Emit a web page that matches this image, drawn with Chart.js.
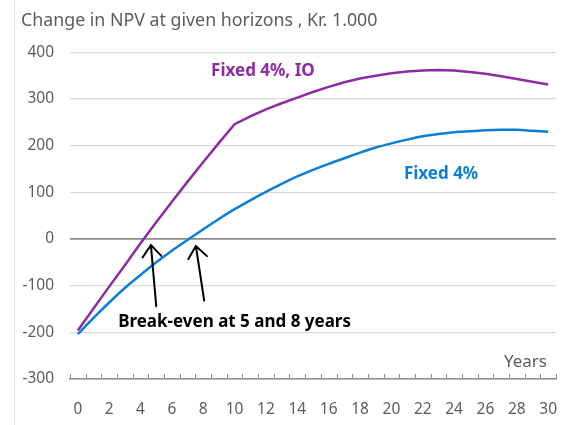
<!DOCTYPE html>
<html>
<head>
<meta charset="utf-8">
<script src="https://cdn.jsdelivr.net/npm/chart.js@4.4.1/dist/chart.umd.min.js"></script>
<style>
    html, body { margin: 0; padding: 0; background: #fff; }
    #wrap { position: relative; width: 564px; height: 425px; }
    #edge { position: absolute; left: 14px; top: 0; width: 1px; height: 425px; background: #e6e6e6; }
    canvas { position: absolute; left: 0; top: 0; }
</style>
</head>
<body>
<div id="wrap">
    <div id="edge"></div>
    <canvas id="npvChart" width="564" height="425"></canvas>
</div>
<script>
// horizon in years
const years = ['0', '1', '2', '3', '4', '5', '6', '7', '8', '9', '10', '11', '12', '13', '14', '15',
    '16', '17', '18', '19', '20', '21', '22', '23', '24', '25', '26', '27', '28', '29', '30'];

// change in NPV, Kr. 1.000
const fixedIO = [-196, -149, -102, -56, -9, 36, 80, 123, 165, 206, 246,
    263, 278, 291, 303, 315, 326, 336, 344, 350, 355, 359, 361, 362, 361, 358, 354, 349, 343, 337, 331];
const fixed4 = [-204, -169, -136, -105, -77, -50, -25, -2, 21, 43, 64,
    83, 101, 118, 134, 148, 161, 173, 185, 196, 205, 213, 220, 225, 229, 231, 233, 234, 234, 232, 230];

const seriesNames = ['Fixed 4%, IO', 'Fixed 4%'];
const yMin = -300;
const yMax = 400;
const yStep = 100;
const xTitle = 'Years';
const chartTitle = 'Change in NPV at given horizons , Kr. 1.000';
const noteText = 'Break-even at 5 and 8 years';

const purple = '#8e2aa3';
const blue = '#0a7fd8';
const grey = '#5c5c5c';
const axisGrey = '#8c8c8c';

// annotation anchors in data units (year index, value)
const labelSpots = [
    { text: seriesNames[0], year: 8.5, value: 349, color: purple },
    { text: seriesNames[1], year: 20.8, value: 128, color: blue },
    { text: noteText, year: 2.57, value: -189, color: '#000' }
];
const arrowSpots = [
    { from: [5.0, -144], to: [4.66, -13] },
    { from: [8.06, -132], to: [7.53, -15] }
];

const notesPlugin = {
    id: 'notes',
    afterDatasetsDraw(chart) {
        const ctx = chart.ctx;
        const x = chart.scales.x;
        const y = chart.scales.y;
        const area = chart.chartArea;
        ctx.save();

        // minor tick marks between the years, pointing up from the axis
        ctx.strokeStyle = axisGrey;
        ctx.lineWidth = 1;
        ctx.beginPath();
        for (let i = 0; i <= years.length; i++) {
            const px = Math.round(x.getPixelForValue(i - 0.5)) + 0.5;
            ctx.moveTo(px, area.bottom);
            ctx.lineTo(px, area.bottom - 5);
        }
        ctx.stroke();

        // series labels and break-even note
        ctx.font = 'bold 17px "Noto Sans"';
        ctx.textAlign = 'left';
        ctx.textBaseline = 'alphabetic';
        labelSpots.forEach(function(l) {
            ctx.fillStyle = l.color;
            ctx.fillText(l.text, x.getPixelForValue(l.year), y.getPixelForValue(l.value));
        });

        // arrows
        ctx.strokeStyle = '#000';
        ctx.lineWidth = 2;
        ctx.lineCap = 'round';
        arrowSpots.forEach(function(a) {
            const x1 = x.getPixelForValue(a.from[0]), y1 = y.getPixelForValue(a.from[1]);
            const x2 = x.getPixelForValue(a.to[0]), y2 = y.getPixelForValue(a.to[1]);
            const ang = Math.atan2(y2 - y1, x2 - x1);
            const head = 15;
            ctx.beginPath();
            ctx.moveTo(x1, y1);
            ctx.lineTo(x2, y2);
            ctx.moveTo(x2 - head * Math.cos(ang - 0.68), y2 - head * Math.sin(ang - 0.68));
            ctx.lineTo(x2, y2);
            ctx.lineTo(x2 - head * Math.cos(ang + 0.68), y2 - head * Math.sin(ang + 0.68));
            ctx.stroke();
        });

        // axis name above the x axis
        ctx.font = '17px "Noto Sans"';
        ctx.fillStyle = grey;
        ctx.textAlign = 'right';
        ctx.fillText(xTitle, area.right - 9, area.bottom - 12);
        ctx.restore();
    }
};

const ctx = document.getElementById('npvChart').getContext('2d');
new Chart(ctx, {
    type: 'line',
    data: {
        labels: years,
        datasets: [{
            label: seriesNames[0],
            data: fixedIO,
            borderColor: purple,
            borderWidth: 2.5,
            pointRadius: 0,
            tension: 0
        }, {
            label: seriesNames[1],
            data: fixed4,
            borderColor: blue,
            borderWidth: 2.5,
            pointRadius: 0,
            tension: 0.3
        }]
    },
    options: {
        responsive: false,
        animation: false,
        layout: { padding: { left: 21, right: 8, top: 0, bottom: 0 } },
        plugins: {
            legend: { display: false },
            tooltip: { enabled: false },
            title: {
                display: true,
                text: chartTitle,
                align: 'start',
                color: grey,
                font: { family: 'Noto Sans', size: 17.8, weight: 'normal', lineHeight: 1.2 },
                padding: { top: 10, bottom: 21 }
            }
        },
        scales: {
            x: {
                type: 'category',
                offset: true,
                grid: {
                    offset: true,
                    display: false
                },
                border: { display: true, color: axisGrey, width: 1.5 },
                ticks: {
                    autoSkip: false,
                    maxRotation: 0,
                    padding: 13,
                    color: grey,
                    font: { family: 'Noto Sans', size: 15.5 },
                    callback: function(v, i) { return i % 2 === 0 ? years[i] : ''; }
                },
                afterFit: function(s) {
                    s.height = 46;
                    s.paddingLeft = 0;
                    s.paddingRight = 0;
                }
            },
            y: {
                min: yMin,
                max: yMax,
                ticks: {
                    stepSize: yStep,
                    padding: 16,
                    color: grey,
                    font: { family: 'Noto Sans', size: 15.5 }
                },
                grid: {
                    drawTicks: false,
                    color: function(c) { return c.tick && c.tick.value === 0 ? axisGrey : '#d9d9d9'; },
                    lineWidth: function(c) { return c.tick && c.tick.value === 0 ? 1.8 : 1.2; }
                },
                border: { display: false },
                afterFit: function(s) { s.width = 49; }
            }
        }
    },
    plugins: [notesPlugin]
});
</script>
</body>
</html>
